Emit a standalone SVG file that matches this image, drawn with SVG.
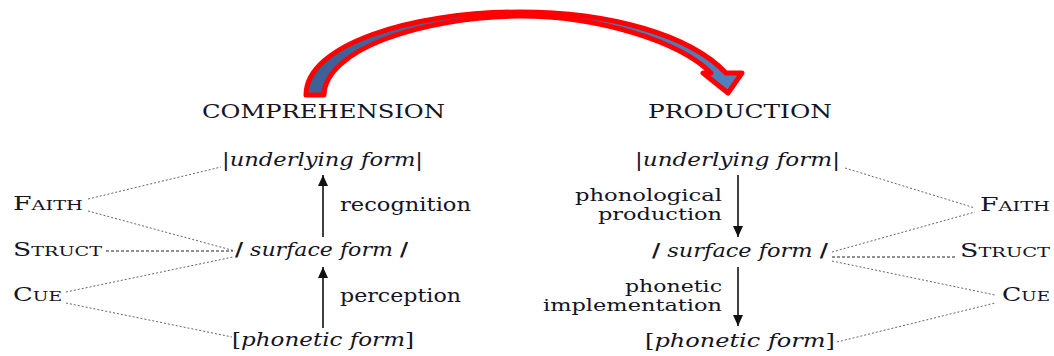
<svg xmlns="http://www.w3.org/2000/svg" width="1054" height="356" viewBox="0 0 1054 356">
<style>
text{font-family:"DejaVu Serif","Liberation Serif",serif;fill:#141424;font-size:18px}
.it{font-style:italic}
.sc{font-size:13px}
.two{font-size:16px}
.dot{stroke:#666;stroke-width:1;stroke-dasharray:2 2;fill:none}
.dash{stroke:#222;stroke-width:1;stroke-dasharray:3 2;fill:none}
.arr{stroke:#111;stroke-width:1.6;fill:none}
</style>
<defs>
<marker id="ah" markerUnits="userSpaceOnUse" markerWidth="12" markerHeight="14" refX="11" refY="5" orient="auto">
<path d="M0,0 L11,5 L0,10 Z" fill="#111"/>
</marker>
<linearGradient id="bl" x1="0" y1="0" x2="1" y2="0">
<stop offset="0" stop-color="#3b6196"/>
<stop offset="1" stop-color="#4f82be"/>
</linearGradient>
</defs>
<g id="cycle-arrow">
<path d="M306,95 C306,45 410,12 520,12 C610,12 690,35 726,73 L742,73 L728,93 L703,73 L711,73 C680,42 600,16 520,16 C420,17 325,50 324,95 Z" fill="url(#bl)" stroke="#ff0000" stroke-width="5" stroke-linejoin="round"/>
</g>
<g id="connectors">
<line class="dot" x1="88" y1="199" x2="221" y2="167"/>
<line class="dot" x1="88" y1="211" x2="235" y2="251"/>
<line class="dash" x1="106" y1="251" x2="233" y2="251"/>
<line class="dot" x1="66" y1="292" x2="233" y2="257"/>
<line class="dot" x1="66" y1="303" x2="232" y2="337"/>
<line class="dot" x1="845" y1="168" x2="975" y2="208"/>
<line class="dot" x1="832" y1="252" x2="975" y2="212"/>
<line class="dash" x1="832" y1="257" x2="957" y2="257"/>
<line class="dot" x1="832" y1="261" x2="995" y2="295"/>
<line class="dot" x1="837" y1="342" x2="995" y2="303"/>
<line class="arr" x1="323" y1="237" x2="323" y2="175" marker-end="url(#ah)"/>
<line class="arr" x1="323" y1="328" x2="323" y2="267" marker-end="url(#ah)"/>
<line class="arr" x1="738" y1="175" x2="738" y2="237" marker-end="url(#ah)"/>
<line class="arr" x1="738" y1="267" x2="738" y2="326" marker-end="url(#ah)"/>
</g>
<g id="titles">
<text x="202" y="118" textLength="243" lengthAdjust="spacingAndGlyphs">COMPREHENSION</text>
<text x="648" y="118" textLength="184" lengthAdjust="spacingAndGlyphs">PRODUCTION</text>
</g>
<g id="comp-underlying"><text x="222" y="166" textLength="201" lengthAdjust="spacingAndGlyphs">|<tspan class="it">underlying form</tspan>|</text></g>
<g id="comp-surface"><text x="235" y="256" textLength="173" lengthAdjust="spacingAndGlyphs"><tspan font-weight="bold">/</tspan><tspan class="it"> surface form </tspan><tspan font-weight="bold">/</tspan></text></g>
<g id="comp-phonetic"><text x="232" y="346" textLength="182" lengthAdjust="spacingAndGlyphs">[<tspan class="it">phonetic form</tspan>]</text></g>
<g id="comp-labels">
<text x="340" y="211" textLength="131" lengthAdjust="spacingAndGlyphs">recognition</text>
<text x="340" y="302" textLength="121" lengthAdjust="spacingAndGlyphs">perception</text>
</g>
<g id="left-constraints">
<text x="13" y="210" textLength="70" lengthAdjust="spacingAndGlyphs">F<tspan class="sc">AITH</tspan></text>
<text x="13" y="256" textLength="89" lengthAdjust="spacingAndGlyphs">S<tspan class="sc">TRUCT</tspan></text>
<text x="13" y="301" textLength="49" lengthAdjust="spacingAndGlyphs">C<tspan class="sc">UE</tspan></text>
</g>
<g id="prod-underlying"><text x="635" y="166" textLength="205" lengthAdjust="spacingAndGlyphs">|<tspan class="it">underlying form</tspan>|</text></g>
<g id="prod-surface"><text x="652" y="257" textLength="176" lengthAdjust="spacingAndGlyphs"><tspan font-weight="bold">/</tspan><tspan class="it"> surface form </tspan><tspan font-weight="bold">/</tspan></text></g>
<g id="prod-phonetic"><text x="645" y="347" textLength="190" lengthAdjust="spacingAndGlyphs">[<tspan class="it">phonetic form</tspan>]</text></g>
<g id="prod-labels">
<text class="two" x="575" y="201" textLength="147" lengthAdjust="spacingAndGlyphs">phonological</text>
<text class="two" x="598" y="220" textLength="124" lengthAdjust="spacingAndGlyphs">production</text>
<text class="two" x="625" y="292" textLength="97" lengthAdjust="spacingAndGlyphs">phonetic</text>
<text class="two" x="543" y="311" textLength="179" lengthAdjust="spacingAndGlyphs">implementation</text>
</g>
<g id="right-constraints">
<text x="980" y="211" textLength="70" lengthAdjust="spacingAndGlyphs">F<tspan class="sc">AITH</tspan></text>
<text x="960" y="257" textLength="90" lengthAdjust="spacingAndGlyphs">S<tspan class="sc">TRUCT</tspan></text>
<text x="1002" y="301" textLength="48" lengthAdjust="spacingAndGlyphs">C<tspan class="sc">UE</tspan></text>
</g>
</svg>
